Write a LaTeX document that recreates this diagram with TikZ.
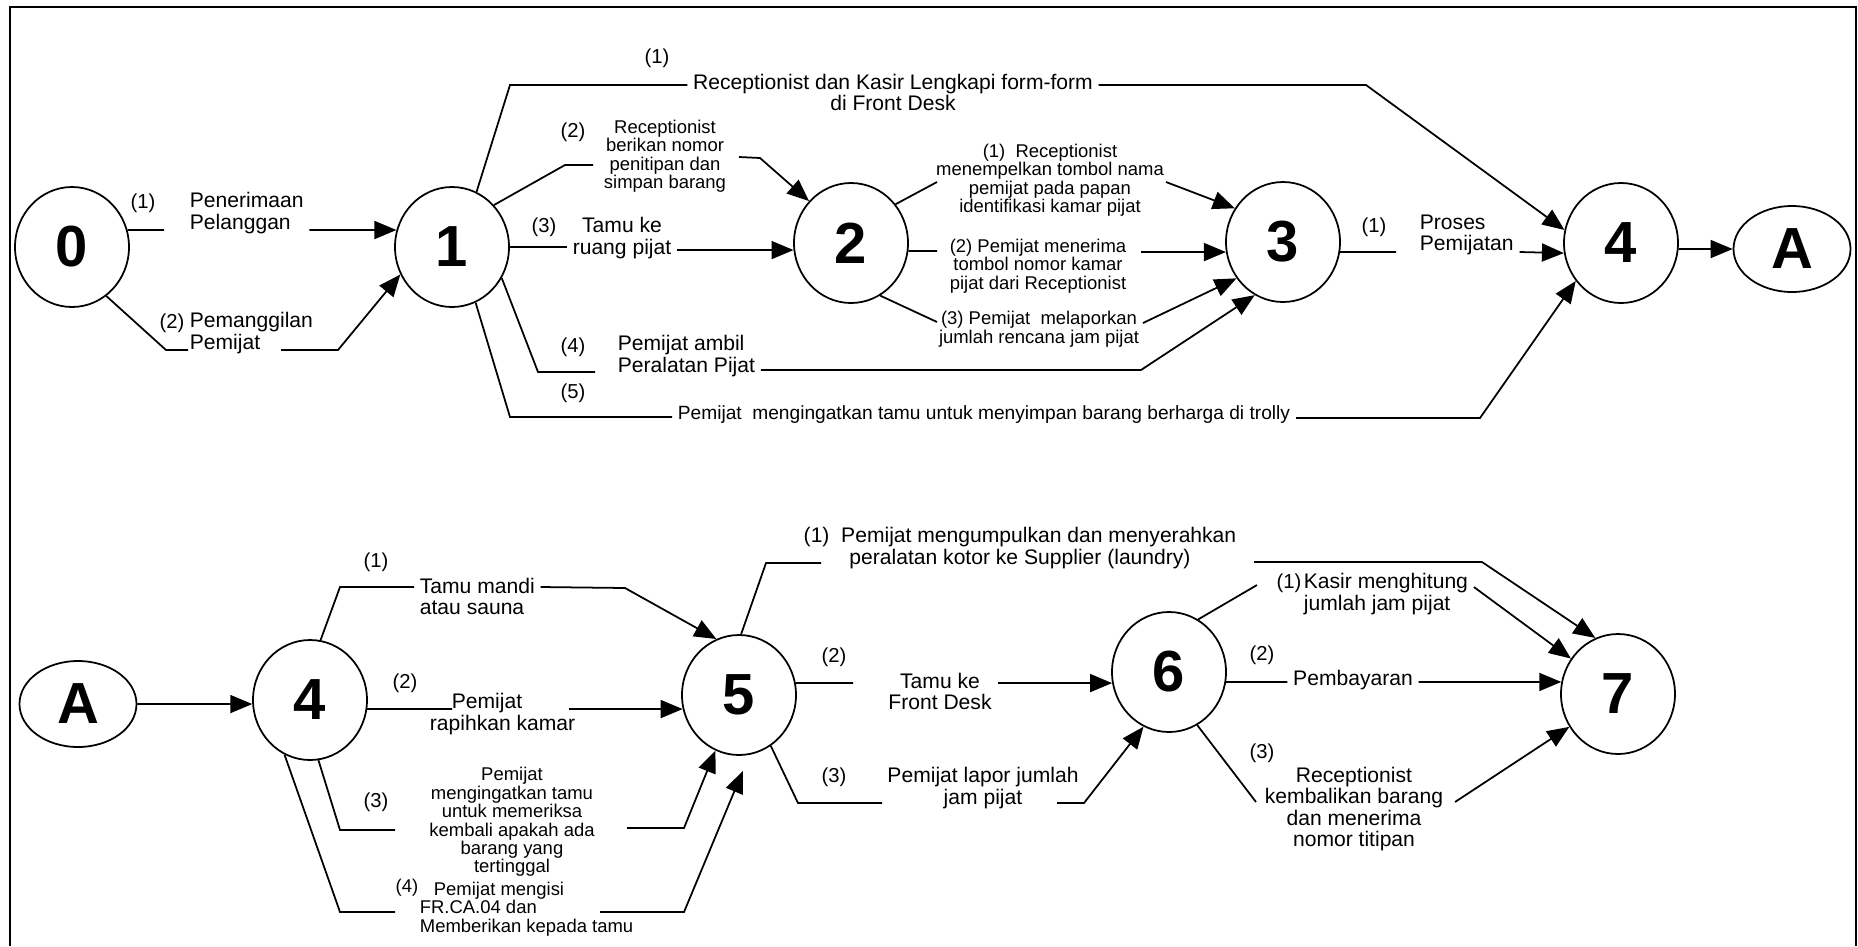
\documentclass[tikz,border=0pt]{standalone}
\usepackage{fontspec}
\setmainfont{Liberation Sans}
\usetikzlibrary{arrows.meta,shapes.geometric}

\begin{document}
\begin{tikzpicture}[x=0.2mm,y=-0.2mm,line width=1pt,
    proc/.style={draw,ellipse,minimum width=22.8mm,minimum height=24mm,inner sep=0pt,
      font=\fontsize{33}{33}\selectfont\bfseries},
    conn/.style={draw,ellipse,minimum width=23.4mm,minimum height=17.2mm,inner sep=0pt,
      font=\fontsize{33}{33}\selectfont\bfseries},
    lbl/.style={inner xsep=1mm,inner ysep=0pt,font=\fontsize{12}{12}\selectfont},
    sml/.style={inner xsep=1mm,inner ysep=0pt,font=\fontsize{10.5}{10.5}\selectfont},
    num/.style={inner sep=0pt,font=\fontsize{11.5}{11.5}\selectfont},
    arr/.style={-{Triangle[length=4.4mm,width=3.6mm]}}]
  \useasboundingbox (0,0) rectangle (1858,946);
  \draw[line width=1.3pt] (10,946) -- (10,7) -- (1856,7) -- (1856,946);

  \node[proc] (N0) at (72,247) {0};
  \node[proc] (N1) at (452,247) {1};
  \node[proc] (N2) at (851,243) {2};
  \node[proc] (N3) at (1283,242) {3};
  \node[proc] (N4) at (1621,243) {4};
  \node[conn] (NA) at (1792,249) {A};

  \node[conn] (MA) at (78,704) {A};
  \node[proc] (M4) at (310,700) {4};
  \node[proc] (M5) at (739,695) {5};
  \node[proc] (M6) at (1169,672) {6};
  \node[proc] (M7) at (1618,694) {7};

  \node[num] (p01) at (143,203) {(1)};
  \node[lbl,anchor=west,align=left] (t01) at (184,213) {Penerimaan\\Pelanggan};
  \draw (N0.17) -- (164,230);
  \draw[arr] (t01.east |- 0,230) -- (N1.163);

  \node[num] (p02) at (172,323) {(2)};
  \node[lbl,anchor=west,align=left] (t02) at (184,333) {Pemanggilan\\Pemijat};
  \draw (N0.-55) -- (166,350) -- (188,350);
  \draw[arr] (281,350) -- (338,350) -- (N1.208);

  \node[num] (p11) at (657,58) {(1)};
  \node[lbl,align=center] (t11) at (893,92) {Receptionist dan Kasir Lengkapi form-form\\di Front Desk};
  \draw (N1.66) -- (510,85) -- (t11.west |- 0,85);
  \draw[arr] (t11.east |- 0,85) -- (1366,85) -- (N4.167);

  \node[num] (p12) at (573,132) {(2)};
  \node[sml,align=center] (t12) at (665,156) {Receptionist\\berikan nomor\\penitipan dan\\simpan barang};
  \draw (N1.45) -- (565,165) -- (593,165);
  \draw[arr] (739,157) -- (760,158) -- (N2.135);

  \node[num] (p13) at (544,227) {(3)};
  \node[lbl,align=center] (t13) at (622,238) {Tamu ke\\ruang pijat};
  \draw (N1.east) -- (t13.west |- N1.east);
  \draw[arr] (t13.east |- 0,250) -- (N2.187);

  \node[num] (p14) at (573,347) {(4)};
  \node[lbl,anchor=west,align=left] (t14) at (612,356) {Pemijat ambil\\Peralatan Pijat};
  \draw (N1.-32) -- (538,372) -- (595,372);
  \draw[arr] (t14.east |- 0,370) -- (1141,370) -- (N3.-118);

  \node[num] (p15) at (573,393) {(5)};
  \node[sml,font=\fontsize{10.9}{10.9}\selectfont] (t15) at (984,415) {Pemijat\ \ mengingatkan tamu untuk menyimpan barang berharga di trolly};
  \draw (N1.-67) -- (510,417) -- (t15.west |- 0,417);
  \draw[arr] (t15.east |- 0,418) -- (1480,418) -- (N4.-140);

  \node[sml,align=center] (t21) at (1050,180) {(1)\ \ Receptionist\\menempelkan tombol nama\\pemijat pada papan\\identifikasi kamar pijat};
  \draw (N2.41) -- (937,182);
  \draw[arr] (1166,182) -- (N3.145);

  \node[sml,align=center] (t22) at (1038,266) {(2) Pemijat menerima\\tombol nomor kamar\\pijat dari Receptionist};
  \draw (N2.-8) -- (937,251);
  \draw[arr] (1141,252) -- (N3.190);

  \node[sml,align=center] (t23) at (1039,329) {(3) Pemijat\ \ melaporkan\\jumlah rencana jam pijat};
  \draw (N2.-61) -- (937,322);
  \draw[arr] (1143,323) -- (N3.-142);

  \node[num] (p34) at (1374,227) {(1)};
  \node[lbl,anchor=west,align=left] (t34) at (1414,235) {Proses\\Pemijatan};
  \draw (N3.-10) -- (1396,252);
  \draw[arr] (t34.east |- 0,252) -- (N4.190);

  \draw[arr] (N4.-6) -- (NA.west);

  \draw[arr] (MA.east) -- (M4.184);

  \node[num] (q41) at (376,562) {(1)};
  \node[lbl,anchor=west,align=left] (u41) at (414,596) {Tamu mandi\\atau sauna};
  \draw (M4.80) -- (340,587) -- (u41.west |- 0,587);
  \draw[arr] (u41.east |- 0,587) -- (625,588) -- (M5.112);

  \node[num] (q42) at (405,683) {(2)};
  \node[lbl,anchor=west,align=left] (u42) at (424,714) {\hspace*{4.4mm}Pemijat\\rapihkan kamar};
  \draw (M4.-9) -- (452,709);
  \draw[arr] (569,709) -- (M5.194);

  \node[num] (q43) at (376,802) {(3)};
  \node[sml,align=center] (u43) at (512,822) {Pemijat\\mengingatkan tamu\\untuk memeriksa\\kembali apakah ada\\barang yang\\tertinggal};
  \draw (M4.-82) -- (340,830) -- (395,830);
  \draw[arr] (627,828) -- (684,828) -- (M5.-113);

  \node[sml,inner sep=0pt] (q44) at (407,888) {(4)};
  \node[sml,anchor=west,align=left] (u44) at (414,909) {\hspace*{2.8mm}Pemijat mengisi\\FR.CA.04 dan\\Memberikan kepada tamu};
  \draw (M4.-115) -- (340,912) -- (395,912);
  \draw[arr,shorten >=3.5mm] (600,912) -- (684,912) -- (M5.-80);

  \node[lbl,align=center] (u51) at (1020,548) {(1)\ \ Pemijat mengumpulkan dan menyerahkan\\peralatan kotor ke Supplier (laundry)};
  \draw (M5.88) -- (766,563) -- (821,563);
  \draw[arr] (1254,562) -- (1482,562) -- (M7.112);

  \node[num] (q52) at (834,657) {(2)};
  \node[lbl,align=center] (u52) at (940,691) {Tamu ke\\Front Desk};
  \draw (M5.12) -- (853,683);
  \draw[arr] (998,683) -- (M6.191);

  \node[num] (q53) at (834,777) {(3)};
  \node[lbl,align=center] (u53) at (983,788) {Pemijat lapor jumlah\\jam pijat};
  \draw (M5.-58) -- (798,803) -- (882,803);
  \draw[arr] (1057,803) -- (1084,803) -- (M6.-115);

  \node[num] (q61) at (1289,583) {(1)};
  \node[lbl,anchor=west,align=left] (u61) at (1298,594) {Kasir menghitung\\jumlah jam pijat};
  \draw (M6.61) -- (1257,585);
  \draw[arr] (u61.east |- 0,587) -- (M7.143);

  \node[num] (q62) at (1262,655) {(2)};
  \node[lbl] (u62) at (1353,680) {Pembayaran};
  \draw (M6.-10) -- (u62.west |- 0,682);
  \draw[arr] (u62.east |- 0,682) -- (M7.168);

  \node[num] (q63) at (1262,753) {(3)};
  \node[lbl,align=center] (u63) at (1354,809) {Receptionist\\kembalikan barang\\dan menerima\\nomor titipan};
  \draw (M6.-62) -- (1256,802);
  \draw[arr] (1455,802) -- (M7.-146);
\end{tikzpicture}
\end{document}
